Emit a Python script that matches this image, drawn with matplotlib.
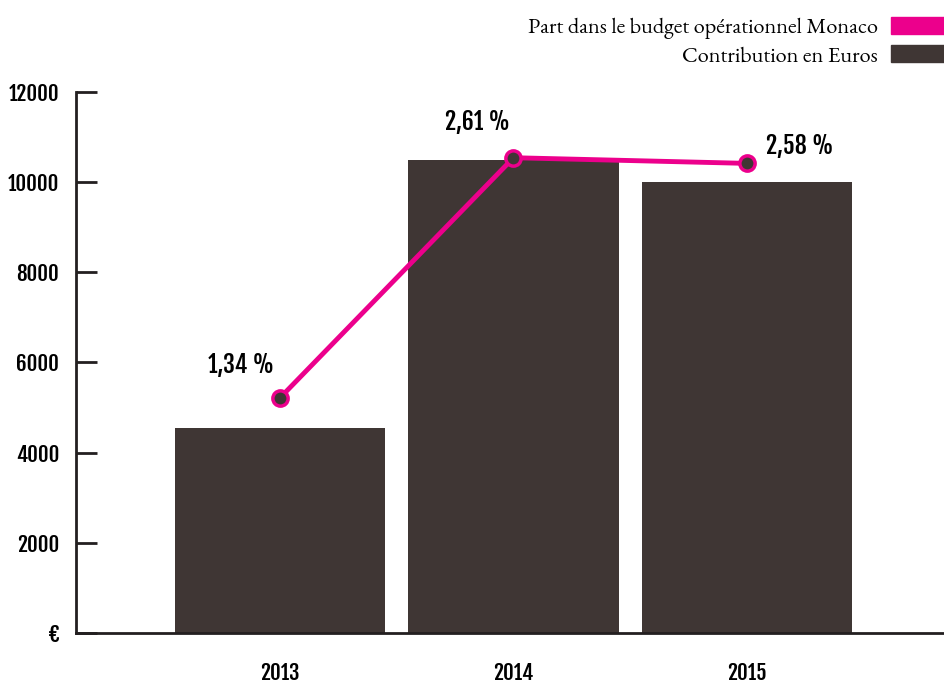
import matplotlib
matplotlib.use("Agg")
import matplotlib.pyplot as plt
import matplotlib.patches as mpatches
from matplotlib import font_manager

# données
annees = ["2013", "2014", "2015"]
contribution = [4550, 10500, 10000]
part_budget = [1.34, 2.61, 2.58]
labels_part = ["1,34 %", "2,61 %", "2,58 %"]
y_ticks = [0, 2000, 4000, 6000, 8000, 10000, 12000]
y_ticklabels = ["€", "2000", "4000", "6000", "8000", "10000", "12000"]

BRUN = "#3f3634"
ROSE = "#ec008c"

noms = {f.name for f in font_manager.fontManager.ttflist}
def premiere(cands):
    for c in cands:
        if c in noms:
            return c
    return "DejaVu Sans"

cond = premiere(["Fjalla One", "Roboto Condensed", "Archivo Narrow", "Oswald"])
serif = premiere(["EB Garamond", "Cormorant Garamond", "Liberation Serif"])

fig = plt.figure(figsize=(9.44, 6.84), dpi=100)
ax = fig.add_axes([0.0805, 0.0746, 0.9195, 0.791])

x = list(range(len(annees)))
ax.bar(x, contribution, width=0.9, color=BRUN, zorder=2)
ax.set_ylim(0, 12000)
ax.set_xlim(-0.874, 2.844)
ax.set_yticks(y_ticks)
ax.set_yticklabels(y_ticklabels, fontfamily=cond, fontweight="bold", fontsize=15)
ax.set_xticks(x)
ax.set_xticklabels(annees, fontfamily=cond, fontweight="bold", fontsize=15)
ax.tick_params(axis="y", direction="in", length=15, width=2, color="#231f20", pad=12)
ax.tick_params(axis="x", length=0, pad=21)
for s in ["top", "right"]:
    ax.spines[s].set_visible(False)
for s in ["left", "bottom"]:
    ax.spines[s].set_linewidth(2)
    ax.spines[s].set_color("#231f20")

# axe secondaire pour les pourcentages
ax2 = ax.twinx()
ax2.set_ylim(0.096, 2.958)
ax2.axis("off")
ax2.plot(x, part_budget, color=ROSE, lw=3.5, marker="o", markersize=11,
         markerfacecolor=BRUN, markeredgecolor=ROSE, markeredgewidth=2.5, zorder=3)

offsets = [(-28, 14), (-26, 16), (38, 3)]
for xi, v, lab, off in zip(x, part_budget, labels_part, offsets):
    ax2.annotate(lab, (xi, v), xytext=off, textcoords="offset points",
                 ha="center", va="bottom", fontfamily=cond, fontweight="bold", fontsize=17)

p1 = mpatches.Patch(color=ROSE, label="Part dans le budget opérationnel Monaco")
p2 = mpatches.Patch(color=BRUN, label="Contribution en Euros")
fig.legend(handles=[p1, p2], loc="upper right", bbox_to_anchor=(1.0, 0.975),
           markerfirst=False, frameon=False, prop={"family": serif, "size": 16},
           handlelength=2.39, handleheight=0.81, handletextpad=0.59,
           labelspacing=0.25, borderaxespad=0, borderpad=0)

fig.savefig("out.png", dpi=100)
